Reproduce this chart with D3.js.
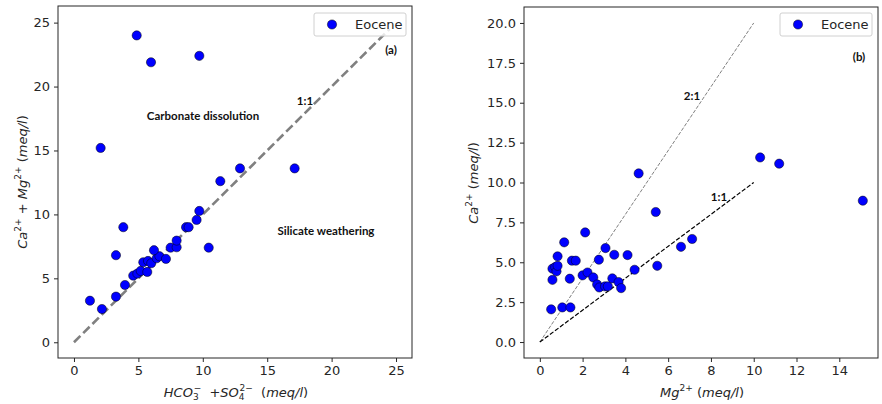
<!DOCTYPE html>
<html>
<head>
<meta charset="utf-8">
<script src="https://cdn.jsdelivr.net/npm/d3@7"></script>
<style>
  body { margin: 0; background: #fff; }
  svg { display: block; }
  .tick text { font-family: "DejaVu Sans", sans-serif; font-size: 13px; fill: #262626; }
  .note { font-family: Lato, "Open Sans", sans-serif; font-weight: bold; font-size: 11.5px; fill: #111; }
  .lab { font-family: "DejaVu Sans", sans-serif; font-size: 13px; fill: #262626; }
</style>
</head>
<body>
<svg id="chart" width="882" height="404"></svg>
<script>
// panel (a): HCO3 + SO4 vs Ca + Mg
var leftX = [1.24, 2.17, 3.26, 3.96, 4.60, 4.92, 5.18, 5.69, 5.38, 5.75, 6.00, 6.42, 6.63, 6.21, 7.14, 7.50,
             7.97, 7.97, 8.70, 8.90, 9.52, 9.73, 10.46, 11.36, 12.89, 17.13, 3.26, 3.83, 2.07, 4.87, 5.98, 9.73];
var leftY = [3.25, 2.60, 3.57, 4.48, 5.21, 5.37, 5.58, 5.50, 6.26, 6.36, 6.18, 6.57, 6.73, 7.20, 6.52, 7.40,
             7.43, 7.95, 9.00, 9.00, 9.57, 10.27, 7.40, 12.60, 13.60, 13.60, 6.81, 9.00, 15.20, 24.00, 21.90, 22.40];

// panel (b): Mg vs Ca
var rightX = [0.53, 1.05, 1.43, 0.59, 0.59, 0.72, 0.78, 0.83, 0.83, 1.14, 1.40, 1.50, 1.68, 2.00, 2.12, 2.23,
              2.50, 2.68, 2.78, 2.76, 3.05, 3.18, 3.07, 3.39, 3.48, 3.68, 3.80, 4.10, 4.43, 4.62, 5.42, 5.49,
              6.60, 7.12, 10.30, 11.19, 15.10];
var rightY = [2.05, 2.17, 2.17, 3.90, 4.60, 4.70, 4.43, 4.78, 5.37, 6.25, 3.97, 5.10, 5.10, 4.18, 6.87, 4.36,
              4.05, 3.61, 3.42, 5.16, 3.49, 3.49, 5.89, 3.99, 5.47, 3.76, 3.38, 5.45, 4.53, 10.57, 8.15, 4.78,
              5.97, 6.46, 11.57, 11.18, 8.86];

var leftXTicks = [0, 5, 10, 15, 20, 25];
var leftYTicks = [0, 5, 10, 15, 20, 25];
var rightXTicks = [0, 2, 4, 6, 8, 10, 12, 14];
var rightYTicks = [0, 2.5, 5, 7.5, 10, 12.5, 15, 17.5, 20];

var seriesName = "Eocene";

var svg = d3.select("#chart");

var drawPanel = function(p){
	var x = d3.scaleLinear().domain(p.xDomain).range([p.x0, p.x1]);
	var y = d3.scaleLinear().domain(p.yDomain).range([p.y1, p.y0]);
	var g = svg.append("g");

	// reference lines
	p.lines.forEach(function(l){
		g.append("line")
			.attr("x1", x(l.from[0])).attr("y1", y(l.from[1]))
			.attr("x2", x(l.to[0])).attr("y2", y(l.to[1]))
			.attr("stroke", l.color)
			.attr("stroke-width", l.width)
			.attr("stroke-dasharray", l.dash);
	});

	// points
	g.selectAll("circle.pt")
		.data(p.xs.map(function(v, i){ return [v, p.ys[i]]; }))
		.enter().append("circle")
		.attr("class", "pt")
		.attr("cx", function(d){ return x(d[0]); })
		.attr("cy", function(d){ return y(d[1]); })
		.attr("r", 4.6)
		.attr("fill", "#0000ff")
		.attr("stroke", "#000")
		.attr("stroke-width", 0.5);

	// axes
	var xa = g.append("g").attr("transform", "translate(0," + p.y1 + ")")
		.call(d3.axisBottom(x).tickValues(p.xTicks).tickSize(4).tickPadding(4).tickFormat(p.xFmt));
	var ya = g.append("g").attr("transform", "translate(" + p.x0 + ",0)")
		.call(d3.axisLeft(y).tickValues(p.yTicks).tickSize(4).tickPadding(4).tickFormat(p.yFmt));
	xa.select(".domain").remove();
	ya.select(".domain").remove();
	g.selectAll(".tick line").attr("stroke", "#262626");

	g.append("rect")
		.attr("x", p.x0).attr("y", p.y0)
		.attr("width", p.x1 - p.x0).attr("height", p.y1 - p.y0)
		.attr("fill", "none").attr("stroke", "#262626").attr("stroke-width", 1);

	// annotations
	p.notes.forEach(function(n){
		g.append("text").attr("class", "note")
			.attr("x", n.x).attr("y", n.y)
			.attr("text-anchor", "middle")
			.text(n.t);
	});

	// legend
	var lg = g.append("g").attr("transform", "translate(" + p.legend[0] + "," + p.legend[1] + ")");
	lg.append("rect")
		.attr("width", 92).attr("height", 23).attr("rx", 2)
		.attr("fill", "#fff").attr("fill-opacity", 0.8)
		.attr("stroke", "#d0d0d0").attr("stroke-width", 1);
	lg.append("circle").attr("cx", 18).attr("cy", 11.5).attr("r", 4.6)
		.attr("fill", "#0000ff").attr("stroke", "#000").attr("stroke-width", 0.5);
	lg.append("text").attr("class", "lab").attr("x", 41).attr("y", 16).text(seriesName);

	return g;
};

var fmt0 = d3.format("d");
var fmt1 = d3.format(".1f");

drawPanel({
	x0: 58, x1: 412, y0: 6, y1: 358,
	xDomain: [-1.24, 26.24], yDomain: [-1.23, 26.3],
	xs: leftX, ys: leftY,
	xTicks: leftXTicks, yTicks: leftYTicks, xFmt: fmt0, yFmt: fmt0,
	lines: [{from: [0, 0], to: [24.5, 24.5], color: "#808080", width: 2.6, dash: "9,4"}],
	notes: [
		{x: 203, y: 120, t: "Carbonate dissolution"},
		{x: 326, y: 235, t: "Silicate weathering"},
		{x: 305, y: 105, t: "1:1"},
		{x: 391, y: 54, t: "(a)"}
	],
	legend: [314, 13]
});

drawPanel({
	x0: 524, x1: 878, y0: 7, y1: 358,
	xDomain: [-0.74, 15.81], yDomain: [-1, 21],
	xs: rightX, ys: rightY,
	xTicks: rightXTicks, yTicks: rightYTicks, xFmt: fmt0, yFmt: fmt1,
	lines: [
		{from: [0, 0], to: [10, 20], color: "#808080", width: 1, dash: "3.7,1.6"},
		{from: [0, 0], to: [10, 10], color: "#000", width: 1.2, dash: "4.4,1.9"}
	],
	notes: [
		{x: 692, y: 100, t: "2:1"},
		{x: 719, y: 201, t: "1:1"},
		{x: 859, y: 61, t: "(b)"}
	],
	legend: [780, 13]
});

// axis labels with sub/superscripts
var label = function(x, y, rot, parts){
	var t = svg.append("text").attr("class", "lab")
		.attr("text-anchor", "middle")
		.attr("transform", "translate(" + x + "," + y + ")" + (rot ? " rotate(-90)" : ""));
	parts.forEach(function(s){
		var ts = t.append("tspan").text(s.t);
		if (s.it) ts.attr("font-style", "italic");
		if (s.sz) ts.attr("font-size", s.sz);
		if (s.dy) ts.attr("dy", s.dy);
		if (s.dx) ts.attr("dx", s.dx);
	});
	return t;
};

label(236, 397, false, [
	{t: "HCO", it: true},
	{t: "3", it: false, sz: 9, dy: 3},
	{t: "\u2212", sz: 9, dx: -5, dy: -9},
	{t: "\u00a0\u00a0+", dy: 6},
	{t: "SO", it: true},
	{t: "4", sz: 9, dy: 3},
	{t: "2\u2212", sz: 9, dx: -5, dy: -9},
	{t: "\u00a0\u00a0(", dy: 6},
	{t: "meq/l", it: true},
	{t: ")"}
]);

label(27, 182, true, [
	{t: "Ca", it: true},
	{t: "2+", sz: 9, dy: -6},
	{t: "\u00a0+\u00a0", dy: 6},
	{t: "Mg", it: true},
	{t: "2+", sz: 9, dy: -6},
	{t: "\u00a0(", dy: 6},
	{t: "meq/l", it: true},
	{t: ")"}
]);

label(702, 397, false, [
	{t: "Mg", it: true},
	{t: "2+", sz: 9, dy: -6},
	{t: "\u00a0(", dy: 6},
	{t: "meq/l", it: true},
	{t: ")"}
]);

label(478, 183, true, [
	{t: "Ca", it: true},
	{t: "2+", sz: 9, dy: -6},
	{t: "\u00a0(", dy: 6},
	{t: "meq/l", it: true},
	{t: ")"}
]);
</script>
</body>
</html>
